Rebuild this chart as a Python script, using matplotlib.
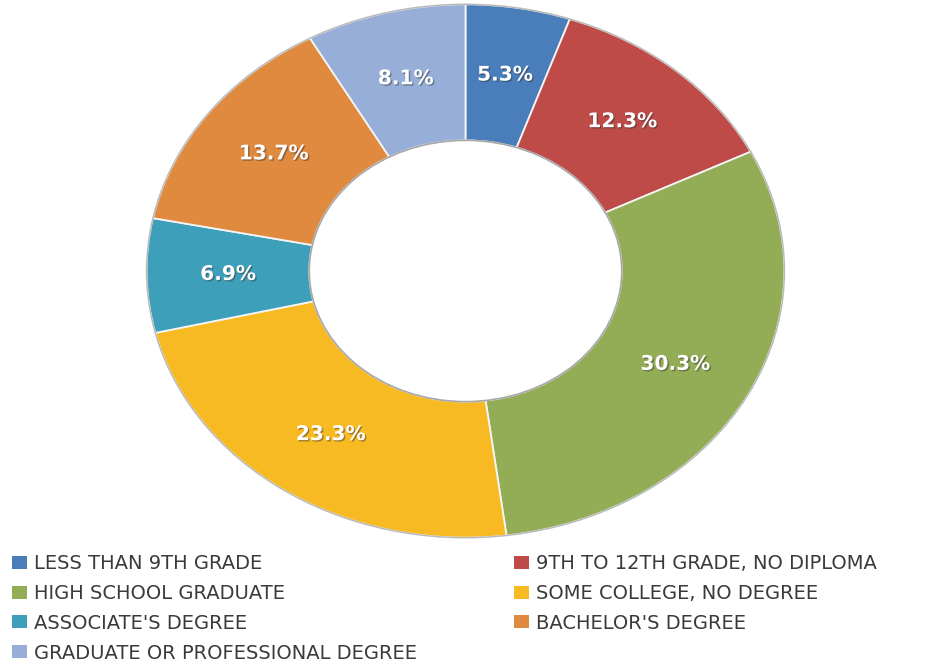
import matplotlib
matplotlib.use("Agg")
import matplotlib.pyplot as plt
import matplotlib.patheffects as pe
from matplotlib.patches import Circle
import numpy as np

categories = [
    "LESS THAN 9TH GRADE",
    "9TH TO 12TH GRADE, NO DIPLOMA",
    "HIGH SCHOOL GRADUATE",
    "SOME COLLEGE, NO DEGREE",
    "ASSOCIATE'S DEGREE",
    "BACHELOR'S DEGREE",
    "GRADUATE OR PROFESSIONAL DEGREE",
]
shares = [5.3, 12.3, 30.3, 23.3, 6.9, 13.7, 8.1]
colors = ["#4A7EBB", "#BE4B48", "#93AD57", "#F8BA22", "#3E9FBA", "#E08A3F", "#97AFD8"]

W, H = 951, 665
fig = plt.figure(figsize=(W / 100, H / 100), dpi=100)
fig.patch.set_facecolor("white")

# ring occupies a slightly wide ellipse
ax = fig.add_axes([145 / W, 126 / H, 641 / W, 536 / H])
hole = 0.49
wedges, _ = ax.pie(
    shares,
    colors=colors,
    startangle=90,
    counterclock=False,
    radius=1.0,
    wedgeprops=dict(width=1 - hole, edgecolor="#f4f4f4", linewidth=1.3),
)
ax.set_aspect("auto")
ax.set_xlim(-1.005, 1.005)
ax.set_ylim(-1.005, 1.005)
ax.axis("off")

ax.add_patch(Circle((0, 0), 1.0, fill=False, ec="#b8b8b8", lw=1.0))
ax.add_patch(Circle((0, 0), hole, fill=False, ec="#a8a8a8", lw=1.2))

label_r = (1 + hole) / 2
shadow = [pe.SimplePatchShadow(offset=(1, -1), shadow_rgbFace="#333333", alpha=0.45), pe.Normal()]
for w, v in zip(wedges, shares):
    mid = np.deg2rad((w.theta1 + w.theta2) / 2)
    ax.text(label_r * np.cos(mid), label_r * np.sin(mid), f"{v:.1f}%",
            ha="center", va="center", color="white", fontsize=14.5,
            fontweight="bold", family="DejaVu Sans", path_effects=shadow)

# two-column legend, filled row by row
left_idx = [0, 2, 4, 6]
right_idx = [1, 3, 5]
leg_kw = dict(loc="upper left", frameon=False, fontsize=14, handlelength=0.75,
              handleheight=0.65, handletextpad=0.38, labelspacing=0.56,
              borderpad=0, borderaxespad=0, labelcolor="#3a3a3a")
leg1 = fig.legend([wedges[i] for i in left_idx], [categories[i] for i in left_idx],
                  bbox_to_anchor=(12 / W, 1 - 554 / H), **leg_kw)
leg2 = fig.legend([wedges[i] for i in right_idx], [categories[i] for i in right_idx],
                  bbox_to_anchor=(514 / W, 1 - 554 / H), **leg_kw)
for leg in (leg1, leg2):
    for h in leg.legend_handles:
        h.set_edgecolor("none")

fig.savefig("out.png", dpi=100)
